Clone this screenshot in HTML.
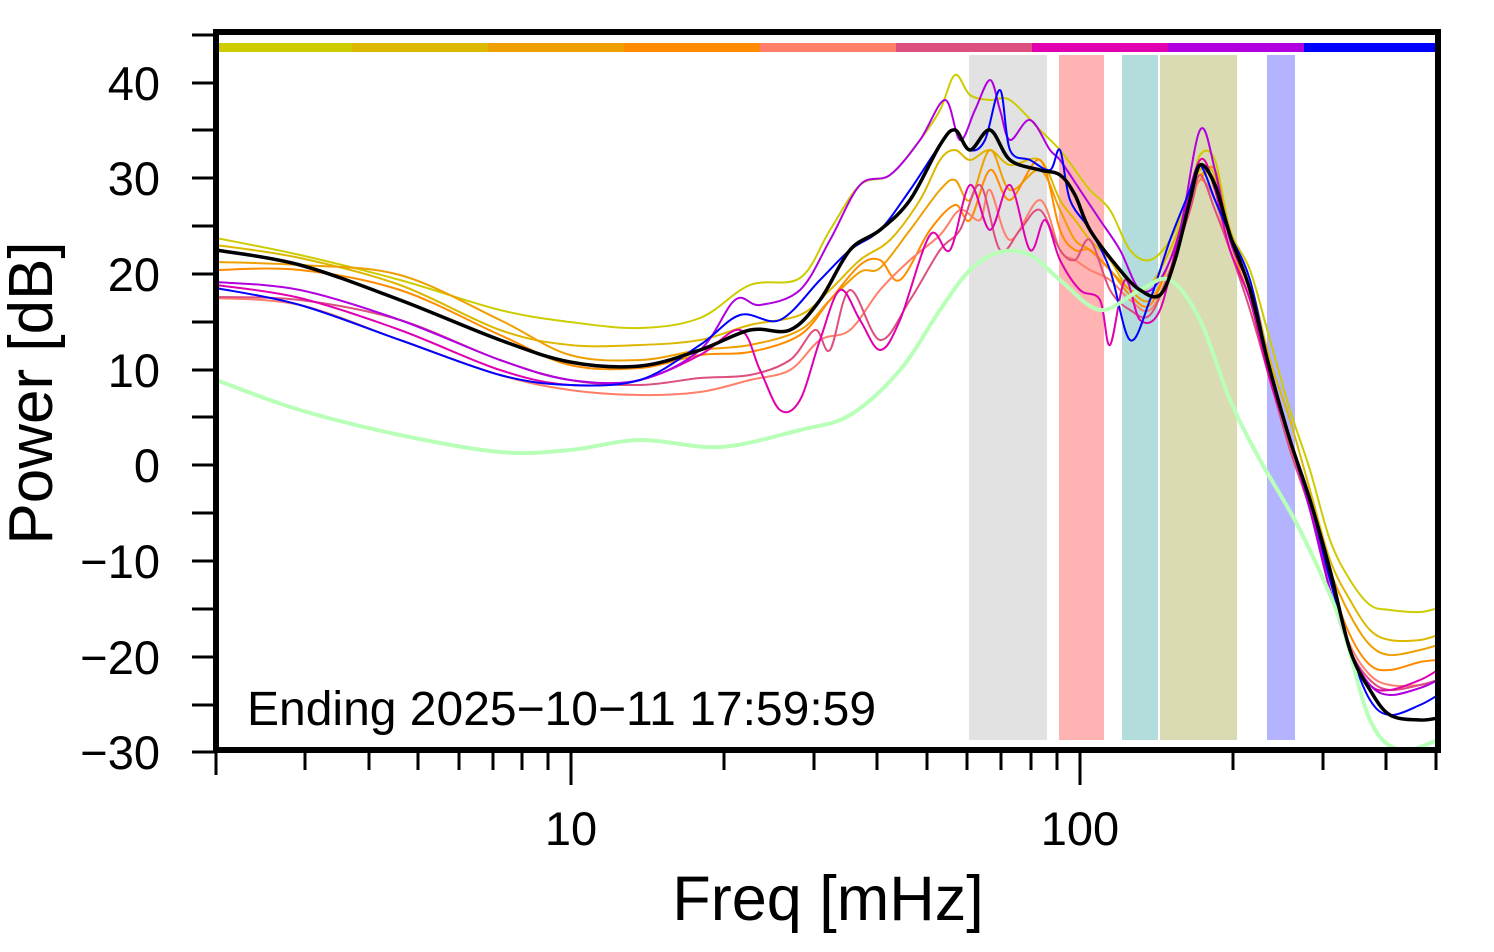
<!DOCTYPE html>
<html><head><style>body{margin:0;background:#fff}svg{display:block}text{font-family:"Liberation Sans",sans-serif}</style></head><body>
<svg id="s" width="1494" height="952" xmlns="http://www.w3.org/2000/svg">
<rect width="1494" height="952" fill="#fff"/>
<rect x="969" y="55" width="78" height="685" fill="#e2e2e2"/>
<rect x="1059" y="55" width="45" height="685" fill="#ffb3b3"/>
<rect x="1122" y="55" width="36" height="685" fill="#b3dcdc"/>
<rect x="1160" y="55" width="77" height="685" fill="#dadab3"/>
<rect x="1267" y="55" width="28" height="685" fill="#b3b3ff"/>
<g>
<rect x="216" y="43" width="136" height="9" fill="#cccc00"/>
<rect x="352" y="43" width="136" height="9" fill="#ddb800"/>
<rect x="488" y="43" width="136" height="9" fill="#eea000"/>
<rect x="624" y="43" width="136" height="9" fill="#ff8c00"/>
<rect x="760" y="43" width="136" height="9" fill="#ff7f6a"/>
<rect x="896" y="43" width="136" height="9" fill="#dd4f7f"/>
<rect x="1032" y="43" width="136" height="9" fill="#e000b0"/>
<rect x="1168" y="43" width="136" height="9" fill="#b000e0"/>
<rect x="1304" y="43" width="134" height="9" fill="#0000ff"/>
</g>
<g id="curves" fill="none" stroke-width="2" stroke-linejoin="round">
<polyline stroke="#cccc00" points="216,238 300,255 400,280 500,310 570,322 640,328 700,318 750,285 800,278 830,230 860,185 890,175 920,140 940,110 955,75 970,95 990,100 1010,100 1040,130 1060,150 1075,170 1090,190 1110,210 1130,250 1150,260 1170,240 1190,195 1200,155 1215,160 1230,230 1250,270 1270,340 1290,410 1310,470 1330,540 1350,580 1370,605 1390,610 1420,612 1438,608"/>
<polyline stroke="#ddb800" points="216,245 300,258 400,285 500,330 570,345 640,345 700,340 750,325 800,315 830,290 860,260 890,240 920,200 940,160 955,150 970,160 990,150 1010,165 1040,160 1060,200 1075,220 1090,240 1110,260 1130,290 1150,285 1170,250 1190,200 1200,170 1215,175 1230,230 1250,280 1270,360 1290,420 1310,490 1330,560 1350,600 1370,630 1390,640 1420,640 1438,635"/>
<polyline stroke="#eea000" points="216,262 300,265 400,275 500,320 570,355 640,360 700,350 750,345 800,330 830,300 860,272 880,268 910,230 940,190 955,180 970,200 990,150 1010,190 1040,170 1060,210 1075,240 1090,250 1110,270 1130,290 1150,300 1170,260 1190,200 1200,175 1215,180 1230,240 1250,290 1270,370 1290,440 1310,500 1330,570 1350,615 1370,645 1390,655 1420,650 1438,645"/>
<polyline stroke="#ff8c00" points="216,270 300,270 400,290 500,335 570,365 640,368 700,355 750,352 800,335 830,300 860,265 880,260 900,280 930,230 955,205 970,220 990,170 1010,200 1040,160 1060,230 1075,250 1090,250 1110,270 1130,295 1150,305 1170,260 1190,200 1200,180 1215,170 1230,240 1250,300 1270,370 1290,445 1310,505 1330,580 1350,635 1370,665 1390,670 1420,662 1438,660"/>
<polyline stroke="#ff7f6a" points="216,298 300,305 400,340 500,375 570,390 640,395 700,392 750,380 790,370 820,340 850,330 880,290 910,260 940,235 960,210 980,220 990,190 1010,240 1040,200 1060,250 1075,260 1090,270 1110,280 1130,300 1150,310 1170,270 1190,210 1200,180 1215,200 1230,250 1250,300 1270,380 1290,445 1310,510 1330,590 1350,645 1370,675 1390,685 1420,685 1438,680"/>
<polyline stroke="#dd4f7f" points="216,297 300,300 400,320 500,360 570,380 640,385 700,378 750,375 790,360 815,330 830,350 850,290 880,340 910,300 940,250 960,230 980,185 1000,250 1020,230 1040,210 1060,250 1075,260 1090,240 1110,290 1130,310 1150,315 1170,270 1190,210 1200,175 1215,210 1230,250 1250,310 1270,380 1290,450 1310,510 1330,590 1350,650 1370,680 1390,690 1420,685 1438,680"/>
<polyline stroke="#e000b0" points="216,285 300,298 400,330 500,370 570,385 640,380 700,355 740,330 760,370 780,410 800,400 820,340 840,290 860,320 880,350 900,320 930,235 950,250 970,185 990,230 1010,185 1030,250 1045,220 1060,260 1080,290 1100,300 1110,345 1125,280 1140,320 1160,310 1180,230 1200,160 1215,190 1230,250 1250,300 1270,380 1290,440 1310,500 1330,590 1350,650 1370,685 1390,690 1420,680 1438,670"/>
<polyline stroke="#b000e0" points="216,282 300,290 400,320 500,360 570,380 640,380 700,350 735,300 760,305 800,290 830,240 860,185 890,175 920,140 945,100 960,140 975,110 990,80 1000,110 1010,140 1030,120 1050,150 1060,160 1080,190 1100,220 1120,250 1140,290 1160,280 1180,230 1200,130 1215,170 1230,240 1250,290 1270,370 1290,440 1310,510 1330,590 1350,650 1370,685 1390,695 1420,688 1438,680"/>
<polyline stroke="#0000ff" points="216,288 300,305 400,340 500,375 570,385 640,380 700,345 740,315 780,320 820,280 850,250 880,230 910,190 940,145 955,130 970,150 985,140 1000,90 1010,150 1030,160 1050,170 1060,150 1070,200 1090,230 1110,270 1130,340 1150,300 1170,240 1190,190 1200,165 1215,200 1230,235 1250,280 1270,370 1290,440 1310,500 1330,580 1350,650 1370,700 1390,715 1420,705 1438,695"/>
<polyline stroke="#b8ffb8" stroke-width="4" points="216,380 300,410 400,435 500,452 570,450 640,440 720,447 800,430 850,415 900,370 940,310 970,270 1000,252 1030,255 1060,280 1100,310 1140,290 1170,280 1200,320 1230,400 1260,460 1300,530 1340,620 1370,720 1400,750 1438,740"/>
<polyline stroke="#000" stroke-width="3.5" points="216,250 300,265 400,300 500,340 570,362 640,366 700,350 750,330 790,330 820,300 850,250 880,230 910,200 940,145 955,130 970,150 990,130 1010,160 1040,170 1060,175 1075,195 1090,230 1120,270 1140,290 1160,295 1175,260 1190,200 1200,165 1215,185 1230,235 1250,290 1270,370 1290,440 1310,500 1330,570 1350,650 1370,690 1390,715 1420,720 1438,718"/>
</g>
<rect x="216" y="32" width="1222" height="718" fill="none" stroke="#000" stroke-width="6"/>
<g stroke="#000" stroke-width="3">
<line x1="192" y1="83" x2="216" y2="83"/><line x1="192" y1="178" x2="216" y2="178"/><line x1="192" y1="274" x2="216" y2="274"/><line x1="192" y1="370" x2="216" y2="370"/><line x1="192" y1="465" x2="216" y2="465"/><line x1="192" y1="561" x2="216" y2="561"/><line x1="192" y1="657" x2="216" y2="657"/><line x1="192" y1="752" x2="216" y2="752"/><line x1="192" y1="35" x2="216" y2="35"/>
<line x1="192" y1="130" x2="216" y2="130"/><line x1="192" y1="226" x2="216" y2="226"/><line x1="192" y1="322" x2="216" y2="322"/><line x1="192" y1="417" x2="216" y2="417"/><line x1="192" y1="513" x2="216" y2="513"/><line x1="192" y1="609" x2="216" y2="609"/><line x1="192" y1="705" x2="216" y2="705"/>
<line x1="216" y1="750" x2="216" y2="775"/><line x1="571" y1="750" x2="571" y2="785"/><line x1="1080" y1="750" x2="1080" y2="785"/>
<line x1="305" y1="750" x2="305" y2="770"/><line x1="369" y1="750" x2="369" y2="770"/><line x1="418" y1="750" x2="418" y2="770"/><line x1="459" y1="750" x2="459" y2="770"/><line x1="493" y1="750" x2="493" y2="770"/><line x1="522" y1="750" x2="522" y2="770"/><line x1="548" y1="750" x2="548" y2="770"/>
<line x1="724" y1="750" x2="724" y2="770"/><line x1="814" y1="750" x2="814" y2="770"/><line x1="877" y1="750" x2="877" y2="770"/><line x1="927" y1="750" x2="927" y2="770"/><line x1="967" y1="750" x2="967" y2="770"/><line x1="1001" y1="750" x2="1001" y2="770"/><line x1="1031" y1="750" x2="1031" y2="770"/><line x1="1057" y1="750" x2="1057" y2="770"/>
<line x1="1233" y1="750" x2="1233" y2="770"/><line x1="1323" y1="750" x2="1323" y2="770"/><line x1="1386" y1="750" x2="1386" y2="770"/><line x1="1436" y1="750" x2="1436" y2="770"/>
</g>
<g font-size="47" text-anchor="end" fill="#000">
<text x="160" y="100">40</text><text x="160" y="195">30</text><text x="160" y="291">20</text><text x="160" y="387">10</text><text x="160" y="482">0</text><text x="160" y="578">−10</text><text x="160" y="674">−20</text><text x="160" y="769">−30</text>
</g>
<g font-size="47" text-anchor="middle"><text x="571" y="845">10</text><text x="1080" y="845">100</text></g>
<text x="828" y="920" font-size="63" text-anchor="middle">Freq [mHz]</text>
<text transform="translate(52,393) rotate(-90)" font-size="62" text-anchor="middle">Power [dB]</text>
<text x="247" y="725" font-size="48">Ending 2025−10−11 17:59:59</text>
</svg>
<script>
document.querySelectorAll('#curves polyline').forEach(function(pl){
var p=pl.getAttribute('points').trim().split(/\s+/).map(function(s){return s.split(',').map(Number)});
var d='M'+p[0][0]+','+p[0][1];
for(var i=0;i<p.length-1;i++){var a=p[Math.max(i-1,0)],b=p[i],c=p[i+1],e=p[Math.min(i+2,p.length-1)];
d+=' C'+(b[0]+(c[0]-a[0])/6)+','+(b[1]+(c[1]-a[1])/6)+' '+(c[0]-(e[0]-b[0])/6)+','+(c[1]-(e[1]-b[1])/6)+' '+c[0]+','+c[1];}
var path=document.createElementNS('http://www.w3.org/2000/svg','path');
path.setAttribute('d',d);path.setAttribute('stroke',pl.getAttribute('stroke'));
if(pl.getAttribute('stroke-width'))path.setAttribute('stroke-width',pl.getAttribute('stroke-width'));
pl.parentNode.replaceChild(path,pl);});
</script>
</body></html>
